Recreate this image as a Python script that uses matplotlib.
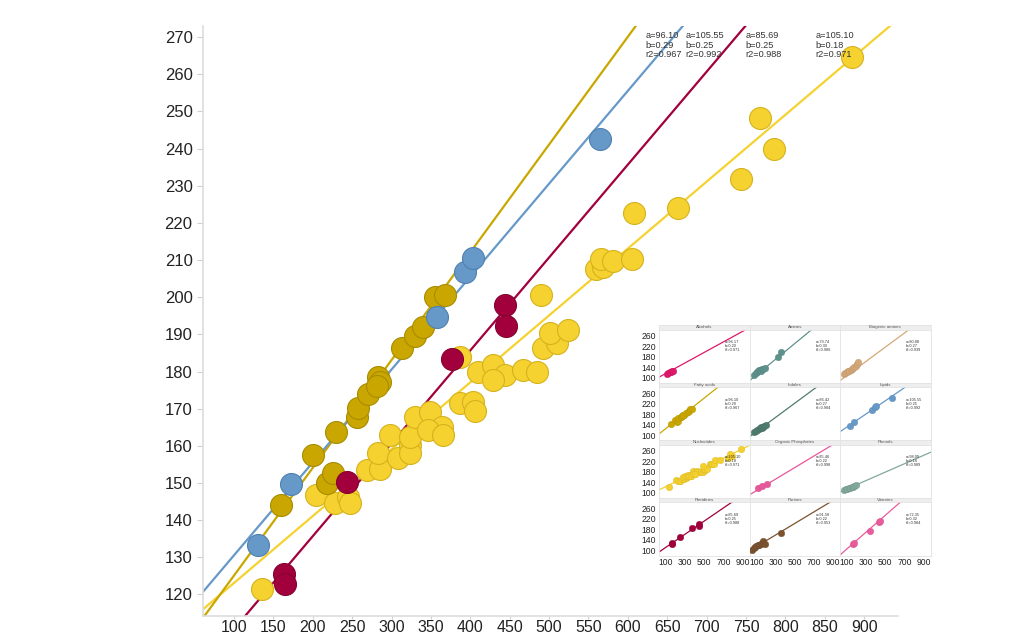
import numpy as np
import matplotlib.pyplot as plt

plt.rcParams['font.family'] = ['Liberation Sans', 'DejaVu Sans']

# ------------------------
# Data: retention vs. mass per compound class
# ------------------------

fatty_x = [159.7, 200.3, 218.1, 225.7, 229.5, 256.2, 257.5, 270.2, 282.9, 285.4,
           281.0, 313.3, 329.8, 340.0, 355.2, 367.9]
fatty_y = [144.0, 157.4, 150.1, 152.8, 163.6, 167.7, 170.3, 173.9, 178.4, 177.1,
           176.0, 186.2, 189.5, 191.9, 200.0, 200.5]

lipid_x = [130.5, 172.0, 358.0, 393.0, 403.5, 565.0]
lipid_y = [133.2, 149.6, 194.6, 206.7, 210.5, 242.5]

pter_x = [163.5, 164.8, 243.5, 376.8, 444.1, 445.4]
pter_y = [125.6, 122.7, 150.2, 183.3, 197.8, 192.2]

nucl_x = [135.6, 204.1, 228.3, 244.8, 247.3, 268.9, 285.4, 282.9, 308.3, 323.5,
          323.5, 298.1, 323.5, 329.8, 348.9, 364.1, 346.3, 365.4, 387.0, 409.8,
          428.9, 444.1, 428.9, 467.0, 484.8, 492.4, 510.2, 501.3, 524.1, 387.0,
          403.5, 406.0, 489.8, 559.7, 568.6, 566.0, 581.3, 605.4, 607.9, 663.8,
          743.8, 785.7, 768.0, 884.8]
nucl_y = [121.6, 146.9, 144.5, 146.1, 144.5, 153.4, 153.7, 158.2, 156.6, 160.1,
          158.2, 162.8, 162.3, 167.7, 169.0, 165.0, 164.2, 162.8, 183.8, 179.8,
          181.7, 179.0, 177.6, 180.3, 179.8, 186.2, 187.6, 190.3, 191.1, 171.4,
          171.7, 169.5, 200.5, 207.5, 208.1, 210.2, 209.7, 210.2, 222.6, 223.9,
          231.8, 239.8, 248.2, 264.6]

alco_x = [110, 125, 140, 150, 165, 172]
alco_y = [116, 119, 121, 123, 127, 126]

amine_x = [80, 95, 110, 120, 130, 140, 150, 160, 175, 190, 330, 362]
amine_y = [112, 118, 122, 125, 128, 130, 126, 133, 135, 137, 180, 197]

biog_x = [70, 85, 100, 110, 125, 140, 150, 165, 180, 195, 210, 220]
biog_y = [115, 118, 122, 125, 127, 130, 133, 136, 140, 145, 152, 158]

indole_x = [80, 95, 110, 125, 140, 150, 160, 170, 185, 200]
indole_y = [112, 116, 120, 123, 126, 130, 128, 133, 136, 140]

orgp_x = [120, 165, 210]
orgp_y = [117, 124, 134]

phenol_x = [70, 90, 105, 120, 135, 150, 165, 180, 195]
phenol_y = [111, 113, 115, 117, 119, 121, 123, 125, 128]

purine_x = [60, 75, 90, 100, 115, 130, 145, 160, 175, 190, 360]
purine_y = [100, 108, 112, 115, 118, 120, 122, 128, 135, 125, 166]

vitam_x = [170, 180, 345, 430, 450]
vitam_y = [122, 126, 172, 208, 210]

# fit parameters shown on the chart: (a, b, r2)
fatty_fit = (96.10, 0.29, 0.967)
lipid_fit = (105.55, 0.25, 0.992)
pter_fit = (85.69, 0.25, 0.988)
nucl_fit = (105.10, 0.18, 0.971)

panels = [
    ("Alcohols", alco_x, alco_y, (96.17, 0.20, 0.971), "#e0176b"),
    ("Amines", amine_x, amine_y, (79.74, 0.30, 0.986), "#5f918c"),
    ("Biogenic amines", biog_x, biog_y, (80.88, 0.27, 0.939), "#d4a878"),
    ("Fatty acids", fatty_x, fatty_y, fatty_fit, "#c9a700"),
    ("Indoles", indole_x, indole_y, (86.42, 0.27, 0.984), "#4f7c6e"),
    ("Lipids", lipid_x, lipid_y, lipid_fit, "#6699c8"),
    ("Nucleotides", nucl_x, nucl_y, nucl_fit, "#f3d02e"),
    ("Organic Phosphates", orgp_x, orgp_y, (85.46, 0.22, 0.998), "#e8579a"),
    ("Phenols", phenol_x, phenol_y, (98.09, 0.16, 0.989), "#82a89c"),
    ("Pteridines", pter_x, pter_y, pter_fit, "#a2003d"),
    ("Purines", purine_x, purine_y, (91.58, 0.22, 0.953), "#7a5230"),
    ("Vitamins", vitam_x, vitam_y, (72.35, 0.32, 0.984), "#ea5b9c"),
]

# drawn in this order so the smaller groups sit on top of the nucleotides
main_series = [
    (nucl_x, nucl_y, nucl_fit, "#f5d22f", "#d6b21e", 838),
    (fatty_x, fatty_y, fatty_fit, "#c9a700", "#a88c00", 622),
    (pter_x, pter_y, pter_fit, "#a2003d", "#85002f", 749),
    (lipid_x, lipid_y, lipid_fit, "#6699c8", "#4f80b0", 673),
]


def darker(hex_color, f=0.8):
    r, g, b = (int(hex_color[i:i + 2], 16) / 255 for i in (1, 3, 5))
    return (r * f, g * f, b * f)


# ------------------------
# Main chart
# ------------------------

W, H = 1018, 634
fig = plt.figure(figsize=(W / 100, H / 100), dpi=100)
fig.patch.set_facecolor("white")

ax = fig.add_axes([203 / W, 18 / H, 695 / W, 590 / H])
xmin, xmax = 60.6, 943
ax.set_xlim(xmin, xmax)
ax.set_ylim(114.2, 273)

line_x = np.array([xmin, xmax])
for xs, ys, (a, b, r2), col, edge, lx in main_series:
    ax.plot(line_x, a + b * line_x, color=col, lw=1.6, zorder=2)
for xs, ys, (a, b, r2), col, edge, lx in main_series:
    ax.scatter(xs, ys, s=250, color=col, edgecolor=edge, linewidth=0.8, zorder=3)
for xs, ys, (a, b, r2), col, edge, lx in main_series:
    ax.text(lx, 271.6, f"a={a:.2f}\nb={b:.2f}\nr2={r2:.3f}", fontsize=6.6,
            color="#333333", va="top", ha="left", linespacing=1.05, zorder=4)

ax.set_xticks(np.arange(100, 901, 50))
ax.set_yticks(np.arange(120, 271, 10))
ax.tick_params(labelsize=12, colors="#d0d0d0", labelcolor="#222222", length=4, width=0.8)
ax.tick_params(axis="x", labelsize=11.5, length=2, pad=1)
for side in ("top", "right"):
    ax.spines[side].set_visible(False)
for side in ("left", "bottom"):
    ax.spines[side].set_color("#dddddd")
    ax.spines[side].set_linewidth(1.2)

# ------------------------
# Small multiples, one panel per class
# ------------------------

col_left = [659, 749.5, 840]
pw = 90.5
row_top = [325, 382.5, 440, 497.5]
strip_h = 4.5
ph = 53.5
pxmin, pxmax = 30, 970
px_line = np.array([pxmin, pxmax])

for k, (name, xs, ys, (a, b, r2), col) in enumerate(panels):
    r, c = divmod(k, 3)
    x0 = col_left[c]
    t0 = row_top[r]

    strip = fig.add_axes([x0 / W, 1 - (t0 + strip_h) / H, pw / W, strip_h / H])
    strip.set_facecolor("#eeeeee")
    strip.set_xticks([])
    strip.set_yticks([])
    for s in strip.spines.values():
        s.set_color("#e0e0e0")
        s.set_linewidth(0.5)
    strip.text(0.5, 0.5, name, fontsize=3.2, color="#555555",
               ha="center", va="center", transform=strip.transAxes)

    p = fig.add_axes([x0 / W, 1 - (t0 + strip_h + ph) / H, pw / W, ph / H])
    p.set_xlim(pxmin, pxmax)
    p.set_ylim(80, 283)
    p.plot(px_line, a + b * px_line, color=col, lw=0.9, zorder=2)
    p.scatter(xs, ys, s=22, color=col, edgecolor=darker(col, 0.9), linewidth=0.3, zorder=3)
    p.text(0.73, 0.80, f"a={a:.2f}\nb={b:.2f}\nr2={r2:.3f}", fontsize=2.8,
           color="#333333", va="top", ha="left", linespacing=1.0, transform=p.transAxes)

    p.set_xticks([100, 300, 500, 700, 900])
    p.set_yticks([100, 140, 180, 220, 260])
    p.tick_params(labelsize=6.2, length=0, pad=2, labelcolor="#222222")
    if c != 0:
        p.set_yticklabels([])
    if r != 3:
        p.set_xticklabels([])
    for s in p.spines.values():
        s.set_color("#e2e2e2")
        s.set_linewidth(0.6)

fig.savefig("out.png", dpi=100)
